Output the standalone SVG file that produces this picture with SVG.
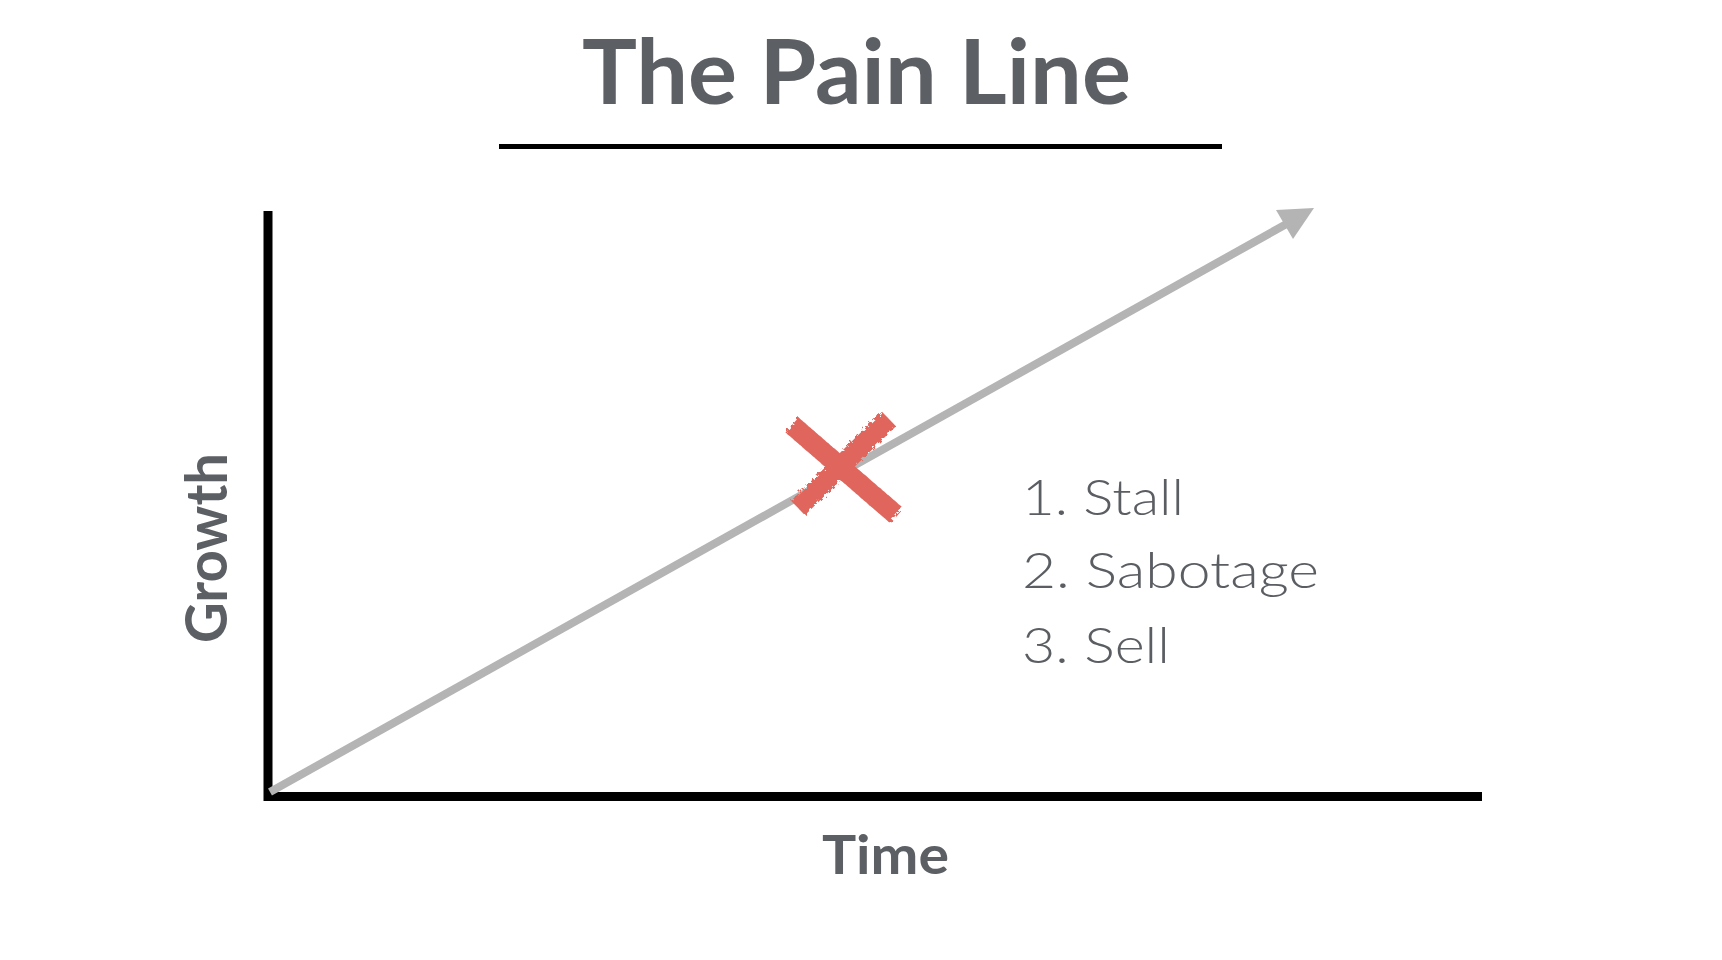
<svg xmlns="http://www.w3.org/2000/svg" width="1722" height="960" viewBox="0 0 1722 960">
<style>
.title{font-family:Lato,"Liberation Sans",sans-serif;font-weight:bold;fill:#5c5f64}
.axislbl{font-family:Lato,"Liberation Sans",sans-serif;font-weight:bold;fill:#5c5f64}
.item{font-family:Lato,"Open Sans","Liberation Sans",sans-serif;font-weight:300;fill:#5a5d62;font-size:50px}
.axis{stroke:#000;stroke-width:9;fill:none}
</style>
<defs>
<filter id="rough" x="-20%" y="-20%" width="140%" height="140%">
<feTurbulence type="fractalNoise" baseFrequency="0.25" numOctaves="2" seed="3"/>
<feDisplacementMap in="SourceGraphic" scale="6"/>
</filter>
</defs>
<rect width="1722" height="960" fill="#fff"/>
<g id="title">
<text class="title" x="856.5" y="104" font-size="90" text-anchor="middle" textLength="549" lengthAdjust="spacingAndGlyphs">The Pain Line</text>
<line x1="499" y1="146.5" x2="1222" y2="146.5" stroke="#000" stroke-width="5"/>
</g>
<g id="axes">
<line class="axis" x1="268" y1="211" x2="268" y2="801"/>
<line class="axis" x1="264" y1="796.5" x2="1482" y2="796.5"/>
</g>
<g id="connectors">
<line x1="270" y1="792" x2="1290" y2="222" stroke="#b4b4b4" stroke-width="8"/>
<polygon points="1314,208 1276,210 1293,239" fill="#b4b4b4"/>
</g>
<g id="xmark" filter="url(#rough)">
<line x1="792" y1="425" x2="896" y2="515" stroke="#e0665d" stroke-width="20"/>
<line x1="889" y1="419" x2="798" y2="508" stroke="#e0665d" stroke-width="20"/>
</g>
<g id="ylabel">
<text class="axislbl" transform="translate(227,548) rotate(-90)" font-size="58" text-anchor="middle" textLength="190" lengthAdjust="spacingAndGlyphs">Growth</text>
</g>
<g id="xlabel">
<text class="axislbl" x="885.5" y="874" font-size="53" text-anchor="middle" textLength="127" lengthAdjust="spacingAndGlyphs">Time</text>
</g>
<g id="list">
<text class="item" x="1022" y="515" textLength="162" lengthAdjust="spacingAndGlyphs">1. Stall</text>
<text class="item" x="1022" y="588" textLength="297" lengthAdjust="spacingAndGlyphs">2. Sabotage</text>
<text class="item" x="1022" y="663" textLength="148" lengthAdjust="spacingAndGlyphs">3. Sell</text>
</g>
</svg>
